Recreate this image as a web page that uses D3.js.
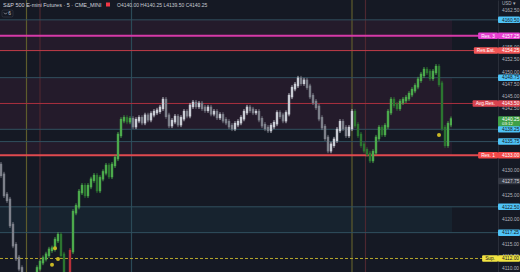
<!DOCTYPE html>
<html>
<head>
<meta charset="utf-8">
<script src="https://cdn.jsdelivr.net/npm/d3@7"></script>
<style>
  html, body { margin: 0; padding: 0; background: #151924; }
  svg { display: block; }
</style>
</head>
<body>
<svg id="svg" width="520" height="272"></svg>
<script>
// closes of the 5 min bars, one per bar
const closes = [
  4129.0, 4124.9, 4123.9, 4118.8, 4114.7, 4112.1, 4110.0, 4107.5, 4106.0, 4105.0,
  4105.5, 4107.0, 4110.0, 4111.25, 4112.0, 4112.75, 4113.75, 4114.0, 4115.75, 4116.75,
  4112.75, 4108.5, 4107.0, 4113.5, 4121.4, 4122.6, 4125.5, 4126.7, 4124.9, 4126.7,
  4128.0, 4128.75, 4125.9, 4128.3, 4129.5, 4130.8, 4128.75, 4131.0, 4132.4, 4137.1,
  4140.1, 4140.5, 4139.9, 4140.3, 4138.9, 4140.1, 4140.5, 4139.7, 4141.0, 4140.3,
  4141.3, 4141.75, 4142.0, 4142.6, 4144.2, 4141.0, 4139.1, 4139.9, 4140.75, 4139.3,
  4140.5, 4141.75, 4141.1, 4143.0, 4143.6, 4143.0, 4143.4, 4142.6, 4142.2, 4142.6,
  4141.5, 4141.75, 4140.75, 4141.1, 4140.1, 4139.7, 4138.9, 4138.5, 4139.3, 4139.7,
  4140.5, 4141.75, 4142.6, 4142.2, 4141.75, 4141.75, 4140.3, 4139.1, 4138.5, 4138.1,
  4138.9, 4139.5, 4141.5, 4141.0, 4140.1, 4141.5, 4145.0, 4146.6, 4147.25, 4148.5,
  4147.7, 4148.1, 4146.9, 4145.0, 4143.8, 4142.8, 4140.5, 4138.7, 4136.5, 4134.0,
  4135.1, 4136.1, 4138.1, 4139.7, 4138.5, 4137.1, 4138.5, 4141.75, 4139.1, 4137.1,
  4135.1, 4134.0, 4133.25, 4132.0, 4133.6, 4136.5, 4138.5, 4137.3, 4138.9, 4141.75,
  4144.2, 4143.2, 4142.6, 4143.8, 4144.2, 4144.6, 4145.4, 4146.2, 4147.0, 4148.3,
  4149.3, 4150.3, 4149.9, 4148.7, 4149.9, 4150.9, 4147.5, 4138.5, 4135.1, 4139.3,
  4140.25
]
const firstOpen = 4131.0

// bar ranges and how they are painted
const segments = [
  { from: 0, to: 11, kind: "gray" },
  { from: 12, to: 43, kind: "green" },
  { from: 44, to: 117, kind: "gray" },
  { from: 118, to: 150, kind: "green" }
]
const redBars = [23]

// yellow signal dots [bar, price]
const dots = [[17, 4110.7], [18, 4114.1], [19, 4111.9], [146, 4137.1]]

// session separators, in bars
const sessionLines = [
  { at: 8.5, kind: "open" }, { at: 13, kind: "close" }, { at: 43.5, kind: "mid" },
  { at: 117, kind: "open" }, { at: 121.5, kind: "close" }
]

// zones drawn behind the bars
const zones = [
  { top: 4160.50, bottom: 4154.25, kind: "res" },
  { top: 4148.75, bottom: 4138.25, kind: "res" },
  { top: 4135.75, bottom: 4133.00, kind: "res" },
  { top: 4122.50, bottom: 4117.25, kind: "sup" }
]

// horizontal levels: price, name shown left of the axis, style
const levels = [
  { price: 4160.50, name: "", kind: "blue" },
  { price: 4157.25, name: "Res. 3", kind: "magenta" },
  { price: 4154.25, name: "Res.Est.", kind: "red" },
  { price: 4148.75, name: "", kind: "blue" },
  { price: 4143.50, name: "Avg.Res.", kind: "avg" },
  { price: 4138.25, name: "", kind: "blue" },
  { price: 4135.75, name: "", kind: "blue" },
  { price: 4133.00, name: "Res. 1", kind: "red1" },
  { price: 4122.50, name: "", kind: "blue" },
  { price: 4117.25, name: "", kind: "blue" },
  { price: 4112.00, name: "Sup.", kind: "yellow" }
]

const axisTicks = [4162.5, 4155, 4152.5, 4150, 4147.5, 4145, 4142.5, 4130, 4125, 4120, 4115, 4112.5, 4110]
const prevClose = 4127.75
const lastPrice = 4140.25
const countdown = "03:12"

const title = "S&P 500 E-mini Futures · 5 · CME_MINI"
const ohlc = "O4140.00 H4140.25 L4139.50 C4140.25"

const styles = {
  blue: { line: "#31505f", w: 1, tag: "#4fc3f7", txt: "#131722" },
  magenta: { line: "#d63aa8", w: 2, tag: "#e53fd0", txt: "#ffffff" },
  red: { line: "#c23c48", w: 1, tag: "#f25555", txt: "#ffffff" },
  avg: { line: "#a8303e", w: 1, tag: "#d9434f", txt: "#ffffff" },
  red1: { line: "#e04a4f", w: 2, tag: "#f44848", txt: "#ffffff" },
  yellow: { line: "#b8a82c", w: 1, tag: "#f2e442", txt: "#131722", dash: "3,2" }
}
const barColors = {
  gray: { up: "#c9ccd4", down: "#7d808a" },
  green: { up: "#4caa4c", down: "#2c7530" }
}

const W = 520, H = 272, plotRight = 452, axisLeft = 498, fs = 4.8
const svg = d3.select("#svg")
  .attr("font-family", "'Liberation Sans', Arial, sans-serif")

const x = d3.scaleLinear().domain([0, closes.length - 1]).range([1, 451])
const y = d3.scaleLinear().domain([4109.25, 4164.53]).range([H, 0])

svg.append("rect").attr("width", W).attr("height", H).attr("fill", "#151924")

svg.selectAll(".zone")
  .data(zones)
  .enter()
  .append("rect")
  .attr("x", 0)
  .attr("width", plotRight)
  .attr("y", d => y(d.top))
  .attr("height", d => y(d.bottom) - y(d.top))
  .attr("fill", d => d.kind == "res" ? "#241b2b" : "#17232f")

svg.selectAll(".sess")
  .data(sessionLines)
  .enter()
  .append("line")
  .attr("x1", d => x(d.at)).attr("x2", d => x(d.at))
  .attr("y1", 0).attr("y2", H)
  .attr("stroke", d => d.kind == "open" ? "#5e5c2c" : d.kind == "close" ? "#4d2730" : "#2b4a57")
  .attr("stroke-width", 1.2)

svg.selectAll(".lvl")
  .data(levels)
  .enter()
  .append("line")
  .attr("x1", 0).attr("x2", axisLeft)
  .attr("y1", d => y(d.price)).attr("y2", d => y(d.price))
  .attr("stroke", d => styles[d.kind].line)
  .attr("stroke-width", d => styles[d.kind].w)
  .attr("stroke-dasharray", d => styles[d.kind].dash || null)

// bars
function kindOf(i) {
  const s = segments.find(s => i >= s.from && i <= s.to)
  return s ? s.kind : "gray"
}
function barColor(d) {
  if (redBars.includes(d.i)) return "#b7303a"
  const c = barColors[kindOf(d.i)]
  return d.close >= d.open ? c.up : c.down
}
const bars = closes.map((c, i) => ({ i: i, open: i == 0 ? firstOpen : closes[i - 1], close: c }))

svg.append("clipPath").attr("id", "clip")
  .append("rect").attr("width", plotRight).attr("height", H)
const plot = svg.append("g").attr("clip-path", "url(#clip)")

const bg = plot.selectAll("g.bar")
  .data(bars)
  .enter()
  .append("g")
  .attr("class", "bar")
// wick
bg.append("line")
  .attr("x1", d => x(d.i)).attr("x2", d => x(d.i))
  .attr("y1", d => Math.min(y(d.open), y(d.close)) - 3)
  .attr("y2", d => Math.max(y(d.open), y(d.close)) + 3)
  .attr("stroke-width", 0.9)
  .attr("stroke", barColor)
// body
bg.append("line")
  .attr("x1", d => x(d.i)).attr("x2", d => x(d.i))
  .attr("y1", d => y(d.open)).attr("y2", d => y(d.close))
  .attr("stroke-width", 2.4)
  .attr("stroke-linecap", "square")
  .attr("stroke", barColor)

plot.selectAll("circle")
  .data(dots)
  .enter()
  .append("circle")
  .attr("cx", d => x(d[0]))
  .attr("cy", d => y(d[1]))
  .attr("r", 2)
  .attr("fill", "#c9b825")

// price axis
const axis = svg.append("g")
  .attr("transform", `translate(${axisLeft},0)`)
  .call(d3.axisRight(y).tickValues(axisTicks).tickSize(0).tickPadding(4).tickFormat(d3.format(".2f")))
axis.select(".domain").attr("stroke", "#2a2e39")
axis.selectAll("text").attr("fill", "#b2b5be").attr("font-size", fs)

function tag(price, text, fill, color, sub) {
  const g = svg.append("g")
  const h = sub ? 10 : 6.5
  g.append("rect")
    .attr("x", axisLeft).attr("y", y(price) - 3.25)
    .attr("width", W - axisLeft).attr("height", h)
    .attr("rx", 1)
    .attr("fill", fill)
  g.append("text")
    .attr("x", axisLeft + 4).attr("y", y(price) + 1.7)
    .attr("font-size", fs).attr("fill", color)
    .text(text)
  if (sub) {
    g.append("text")
      .attr("x", axisLeft + 4).attr("y", y(price) + 5.8)
      .attr("font-size", fs - 0.4).attr("fill", color)
      .text(sub)
  }
}

levels.forEach(d => {
  const s = styles[d.kind]
  tag(d.price, d3.format(".2f")(d.price), s.tag, s.txt)
  if (d.name) {
    const t = svg.append("text")
      .attr("font-size", fs)
      .attr("fill", s.txt)
      .attr("text-anchor", "end")
      .attr("x", axisLeft - 3)
      .attr("y", y(d.price) + 1.7)
      .text(d.name)
    const bw = t.node().getComputedTextLength() + 6
    svg.insert("rect", () => t.node())
      .attr("x", axisLeft - bw).attr("y", y(d.price) - 3.25)
      .attr("width", bw).attr("height", 6.5)
      .attr("rx", 1)
      .attr("fill", s.tag)
  }
})
tag(prevClose, d3.format(".2f")(prevClose), "#363a45", "#d1d4dc")
tag(lastPrice, d3.format(".2f")(lastPrice), "#3fa047", "#ffffff", countdown)

svg.append("text").attr("x", axisLeft + 4).attr("y", 4.5)
  .attr("font-size", 4.5).attr("fill", "#b2b5be").text("USD ▾")

// header
svg.append("text").attr("x", 3).attr("y", 7)
  .attr("font-size", 5.5).attr("fill", "#d1d4dc").text(title)
svg.append("rect").attr("x", 106).attr("y", 2.5).attr("width", 4).attr("height", 4).attr("fill", "#f23645")
svg.append("text").attr("x", 117).attr("y", 7)
  .attr("font-size", 5).attr("fill", "#c7cad2").text(ohlc)
svg.append("rect").attr("x", 2).attr("y", 10).attr("width", 11).attr("height", 7).attr("rx", 1.5)
  .attr("fill", "#151924").attr("stroke", "#3a3e4a").attr("stroke-width", 0.6)
svg.append("path").attr("d", "M4,12.6 L5.5,14.2 L7,12.6")
  .attr("fill", "none").attr("stroke", "#c7cad2").attr("stroke-width", 0.6)
svg.append("text").attr("x", 8.3).attr("y", 15.3)
  .attr("font-size", 4.8).attr("fill", "#c7cad2").text("6")
</script>
</body>
</html>
